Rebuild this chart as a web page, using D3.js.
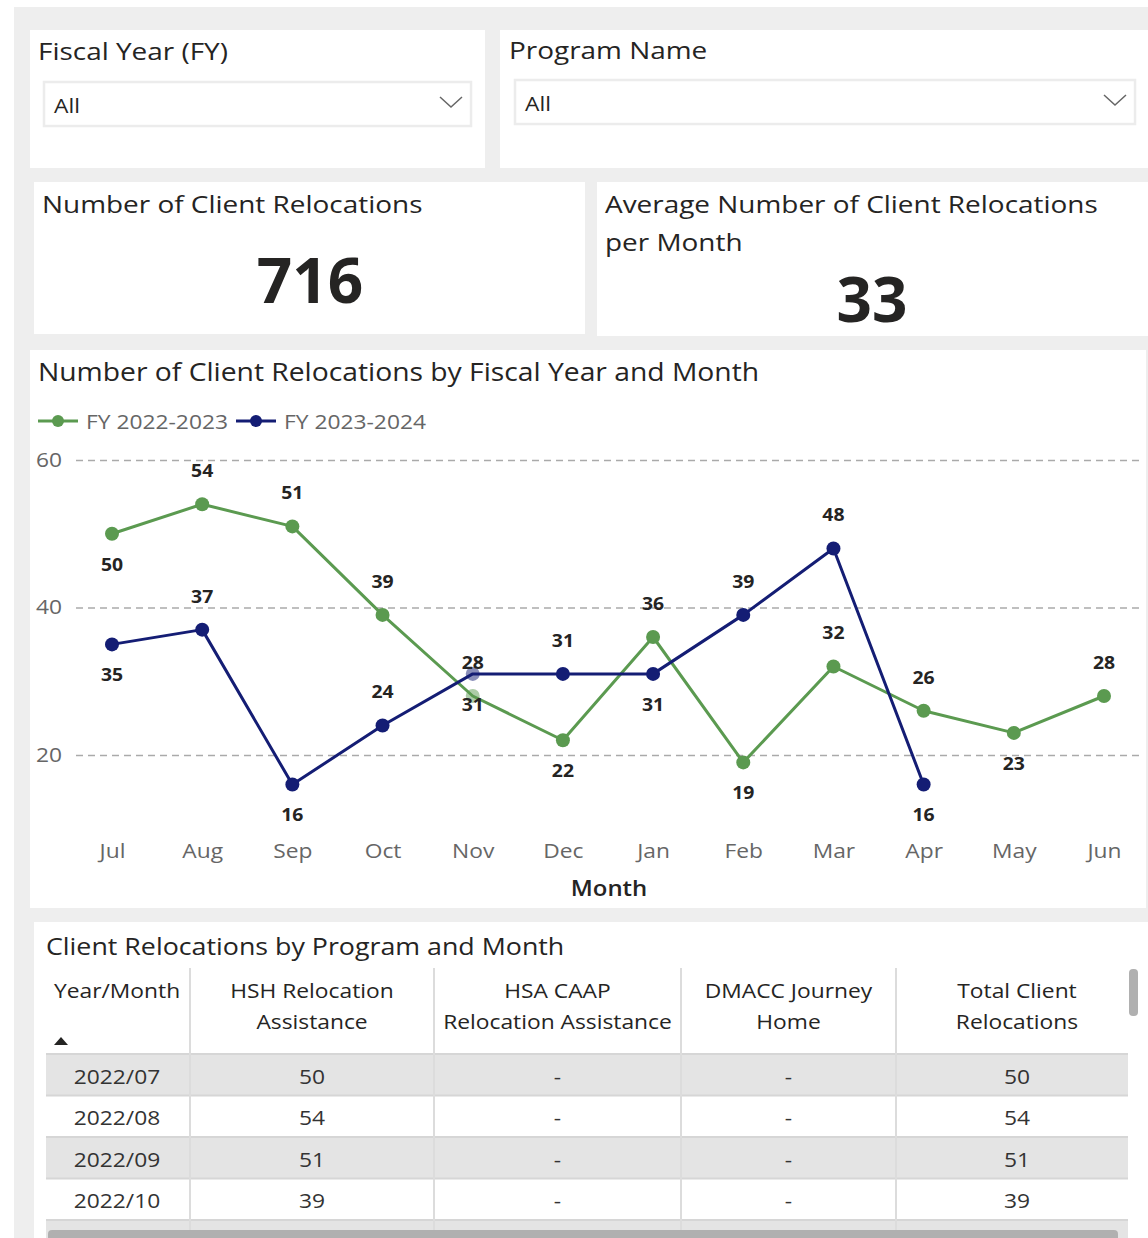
<!DOCTYPE html>
<html><head><meta charset="utf-8">
<script src="https://cdn.jsdelivr.net/npm/d3@7"></script>
<style>
html,body{margin:0;padding:0;background:#fff;}
svg{display:block;}
text{font-family:"Open Sans","Noto Sans",sans-serif;}
</style></head>
<body><svg id="c" width="1148" height="1238"></svg>
<script>
const months = ["Jul","Aug","Sep","Oct","Nov","Dec","Jan","Feb","Mar","Apr","May","Jun"];
const seriesNames = ["FY 2022-2023","FY 2023-2024"];
const fy2223 = [50,54,51,39,28,22,36,19,32,26,23,28];
const fy2324 = [35,37,16,24,31,31,31,39,48,16];
const labelPos2223 = ["below","above","above","above","above","below","above","below","above","above","below","above"];
const labelPos2324 = ["below","above","below","above","below","above","below","above","above","below"];
const yTicks = [20,40,60];
const totalRelocations = 716;
const avgPerMonth = 33;
const tableColumns = ["Year/Month","HSH Relocation|Assistance","HSA CAAP|Relocation Assistance","DMACC Journey|Home","Total Client|Relocations"];
const tableMonths = ["2022/07","2022/08","2022/09","2022/10"];
const tableHSH = [50,54,51,39];
const tableHSA = ["-","-","-","-"];
const tableDMACC = ["-","-","-","-"];
const tableTotal = [50,54,51,39];

const green = "#5b9a50", blue = "#141d74";
const svg = d3.select("#c");

svg.append("rect").attr("x",14).attr("y",7).attr("width",1134).attr("height",1231).attr("fill","#eeeeee");

const panels = [[30,30,455,138],[500,30,648,138],[34,182,551,152],[597,182,551,154],[30,350,1116,558],[34,922,1114,316]];
panels.forEach(p=>svg.append("rect").attr("x",p[0]).attr("y",p[1]).attr("width",p[2]).attr("height",p[3]).attr("fill","#fff"));

function slicer(x,y,title,bx,by,bw,bh){
  svg.append("text").attr("x",x).attr("y",y).attr("font-size",24.5).attr("fill","#252423").text(title);
  svg.append("rect").attr("x",bx).attr("y",by).attr("width",bw).attr("height",bh).attr("fill","#fff").attr("stroke","#ececec").attr("stroke-width",2.5);
  svg.append("text").attr("x",bx+10).attr("y",by+bh/2+9).attr("font-size",20).attr("fill","#252423").text("All");
  const cx=bx+bw-20, cy=by+bh/2-2;
  svg.append("path").attr("d",`M${cx-11},${cy-5}L${cx},${cy+5}L${cx+11},${cy-5}`).attr("fill","none").attr("stroke","#666").attr("stroke-width",1.5);
}
slicer(38,60,"Fiscal Year (FY)",44,82,427,44);
slicer(509,59,"Program Name",515,80,620,44);

svg.append("text").attr("x",42).attr("y",213).attr("font-size",24.5).attr("fill","#252423").text("Number of Client Relocations");
svg.append("text").attr("x",310).attr("y",303).attr("text-anchor","middle").attr("font-size",62).attr("font-weight","bold").attr("fill","#252423").attr("data-s",1).text(totalRelocations);
svg.append("text").attr("x",605).attr("y",213).attr("font-size",24.5).attr("fill","#252423").text("Average Number of Client Relocations");
svg.append("text").attr("x",605).attr("y",251).attr("font-size",24.5).attr("fill","#252423").text("per Month");
svg.append("text").attr("x",872).attr("y",322).attr("text-anchor","middle").attr("font-size",62).attr("font-weight","bold").attr("fill","#252423").attr("data-s",1).text(avgPerMonth);

svg.append("text").attr("x",38).attr("y",381).attr("font-size",24.8).attr("fill","#252423").text("Number of Client Relocations by Fiscal Year and Month");
const leg = [[38,green,seriesNames[0],86],[236,blue,seriesNames[1],284]];
leg.forEach(l=>{
  svg.append("line").attr("x1",l[0]).attr("x2",l[0]+40).attr("y1",421).attr("y2",421).attr("stroke",l[1]).attr("stroke-width",3);
  svg.append("circle").attr("cx",l[0]+20).attr("cy",421).attr("r",6).attr("fill",l[1]);
  svg.append("text").attr("x",l[3]).attr("y",429).attr("font-size",20).attr("fill","#666").text(l[2]);
});

const x = d3.scalePoint().domain(months).range([112,1104]);
const y = d3.scaleLinear().domain([0,60]).range([902.5,460]);

const gy = svg.append("g").attr("transform","translate(76,0)")
  .call(d3.axisLeft(y).tickValues(yTicks).tickSize(-1064).tickPadding(14));
gy.select(".domain").remove();
gy.selectAll(".tick line").attr("stroke","#aaa").attr("stroke-width",1.5).attr("stroke-dasharray","7,5");
gy.selectAll(".tick text").attr("font-size",20).attr("fill","#666").attr("font-family","'Open Sans',sans-serif");

const gx = svg.append("g").attr("transform","translate(0,836)")
  .call(d3.axisBottom(x).tickSize(0).tickPadding(0));
gx.select(".domain").remove();
gx.selectAll(".tick text").attr("font-size",20).attr("fill","#666").attr("dy","0.3em").attr("y",16).attr("font-family","'Open Sans',sans-serif");
svg.append("text").attr("x",609).attr("y",896).attr("text-anchor","middle").attr("font-size",21).attr("font-weight",600).attr("fill","#252423").text("Month");

function series(vals,color,pos){
  const data = vals.map((v,i)=>({m:months[i],v,p:pos[i]}));
  const line = d3.line().x(d=>x(d.m)).y(d=>y(d.v));
  svg.append("path").datum(data).attr("d",line).attr("fill","none").attr("stroke",color).attr("stroke-width",3).attr("stroke-linejoin","round");
  svg.selectAll(null).data(data).enter().append("circle")
    .attr("cx",d=>x(d.m)).attr("cy",d=>y(d.v)).attr("r",7).attr("fill",color)
    .attr("fill-opacity",d=>d.m==="Nov"?0.5:1);
  return data;
}
const d1 = series(fy2223,green,labelPos2223);
const d2 = series(fy2324,blue,labelPos2324);
[...d1,...d2].forEach(d=>{
  svg.append("text").attr("x",x(d.m)).attr("y",y(d.v)+(d.p==="above"?-33:31)+6)
    .attr("text-anchor","middle").attr("font-size",17).attr("font-weight","bold").attr("fill","#252423").text(d.v);
});

svg.append("text").attr("x",46).attr("y",955).attr("font-size",23.5).attr("fill","#252423").text("Client Relocations by Program and Month");
const colEdges = [46,190,434,681,896,1138];
const rowTop = 1054, rowH = 41.5;
for(let i=0;i<5;i++){
  const top = rowTop + i*rowH;
  if(i%2===0) svg.append("rect").attr("x",46).attr("y",top).attr("width",1082).attr("height",Math.min(rowH,1238-top)).attr("fill","#e4e4e4");
  svg.append("line").attr("x1",46).attr("x2",1128).attr("y1",top).attr("y2",top).attr("stroke","#d6d6d6").attr("stroke-width",2);
}
colEdges.slice(1,5).forEach(cx=>svg.append("line").attr("x1",cx).attr("x2",cx).attr("y1",968).attr("y2",1238).attr("stroke","#dcdcdc").attr("stroke-width",2));
tableColumns.forEach((c,i)=>{
  const lines = c.split("|");
  const cx = i===0 ? 54 : (colEdges[i]+colEdges[i+1])/2;
  lines.forEach((t,j)=>{
    svg.append("text").attr("x",cx).attr("y",998+j*31).attr("text-anchor",i===0?"start":"middle")
      .attr("font-size",20).attr("fill","#252423").text(t);
  });
});
svg.append("path").attr("d","M54,1045L61,1037L68,1045Z").attr("fill","#252423");
const cols = [tableMonths,tableHSH,tableHSA,tableDMACC,tableTotal];
tableMonths.forEach((m,r)=>{
  cols.forEach((col,i)=>{
    const cx = (colEdges[i]+colEdges[i+1])/2;
    svg.append("text").attr("x",i===0?117:cx).attr("y",rowTop+r*rowH+rowH/2+9).attr("text-anchor","middle")
      .attr("font-size",20).attr("fill","#333").text(col[r]);
  });
});
svg.append("rect").attr("x",48).attr("y",1230).attr("width",1070).attr("height",12).attr("rx",4).attr("fill","#b0b0b0");
svg.append("rect").attr("x",1129).attr("y",969).attr("width",9).attr("height",47).attr("rx",4).attr("fill","#b0b0b0");

svg.selectAll("text").each(function(){
  const el = d3.select(this);
  const s = el.attr("data-s") != null ? +el.attr("data-s") : 1.14;
  const tx = +el.attr("x") || 0;
  const prev = el.attr("transform") || "";
  el.attr("transform", `${prev} translate(${tx},0) scale(${s},1) translate(${-tx},0)`);
});
</script></body></html>
